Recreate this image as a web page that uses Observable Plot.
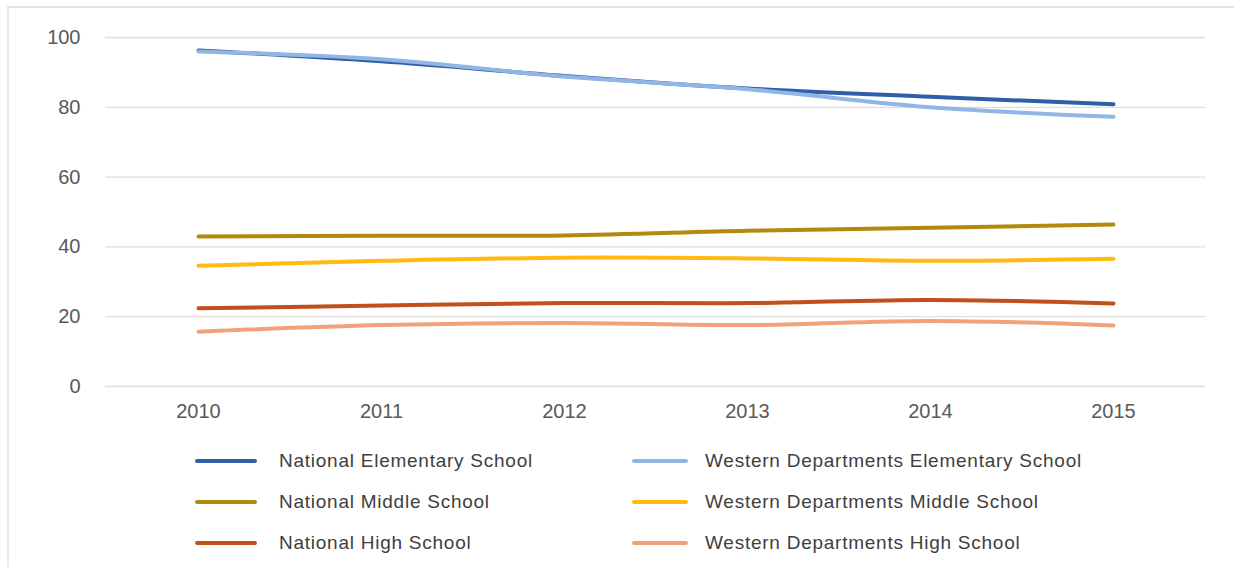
<!DOCTYPE html>
<html>
<head>
<meta charset="utf-8">
<script src="https://cdn.jsdelivr.net/npm/d3@7"></script>
<script src="https://cdn.jsdelivr.net/npm/@observablehq/plot@0.6"></script>
<style>
  html, body { margin: 0; padding: 0; background: #fff; overflow: hidden; }
  #wrap { position: relative; width: 1234px; height: 567px; overflow: hidden; font-family: "Liberation Sans", Arial, sans-serif; }
  #frame { position: absolute; left: 7px; top: 6px; width: 1300px; height: 600px; border-top: 2px solid #e2e2e2; border-left: 2px solid #e8e8e8; box-sizing: border-box; }
  #chart { position: absolute; left: 0; top: 0; }
  #legend { position: absolute; left: 0; top: 0; width: 1234px; height: 567px; pointer-events: none; }
  .item { position: absolute; display: flex; align-items: center; height: 24px; color: #404040; font-size: 19px; letter-spacing: 0.75px; white-space: nowrap; }
  .sw { display: inline-block; height: 4px; border-radius: 2px; }
</style>
</head>
<body>
<div id="wrap">
  <div id="frame"></div>
  <div id="chart"></div>
  <div id="legend"></div>
</div>
<script>
const years = ["2010", "2011", "2012", "2013", "2014", "2015"];
const yTicks = [0, 20, 40, 60, 80, 100];

const seriesNames = [
  "National Elementary School",
  "Western Departments Elementary School",
  "National Middle School",
  "Western Departments Middle School",
  "National High School",
  "Western Departments High School"
];
const seriesColors = ["#2e5fa8", "#8fb6e4", "#b38a0e", "#ffbb10", "#c2501a", "#f2a27a"];

const nationalElementary = [96.3, 93.2, 89.0, 85.4, 83.0, 80.9];
const westernElementary  = [96.0, 93.8, 88.8, 85.2, 80.0, 77.3];
const nationalMiddle     = [43.0, 43.2, 43.3, 44.6, 45.5, 46.4];
const westernMiddle      = [34.6, 36.0, 36.9, 36.7, 36.0, 36.6];
const nationalHigh       = [22.4, 23.2, 23.9, 23.9, 24.8, 23.8];
const westernHigh        = [15.7, 17.6, 18.2, 17.6, 18.8, 17.5];

const seriesValues = [nationalElementary, westernElementary, nationalMiddle, westernMiddle, nationalHigh, westernHigh];

const rows = [];
seriesNames.forEach((name, i) => {
  years.forEach((yr, j) => rows.push({series: name, year: yr, value: seriesValues[i][j]}));
});

const chart = Plot.plot({
  width: 1234,
  height: 567,
  marginTop: 37,
  marginBottom: 181,
  marginLeft: 105,
  marginRight: 29,
  style: {fontFamily: "'Liberation Sans', Arial, sans-serif", background: "transparent", overflow: "visible"},
  x: {type: "point", domain: years, padding: 0.5, label: null},
  y: {domain: [0, 100], ticks: yTicks, label: null},
  color: {domain: seriesNames, range: seriesColors},
  marks: [
    Plot.ruleY(yTicks, {stroke: "#dedede", strokeWidth: 1.3}),
    Plot.axisY({ticks: yTicks, tickSize: 0, tickPadding: 25, fontSize: 20, fill: "#595959", label: null, style: {letterSpacing: "0.8px"}}),
    Plot.axisX({tickSize: 0, tickPadding: 17, fontSize: 20, fill: "#595959", label: null, style: {letterSpacing: "0.8px"}}),
    Plot.line(rows, {x: "year", y: "value", z: "series", stroke: "series", strokeWidth: 4, curve: "catmull-rom", strokeLinecap: "round"})
  ]
});
document.getElementById("chart").appendChild(chart);

// Legend (two columns, three rows)
const legend = document.getElementById("legend");
const colLeft = [195, 62, 22];   // x, swatch width, gap
const colRight = [632, 56, 17];
const rowTops = [449, 490, 531];
seriesNames.forEach((name, i) => {
  const col = i % 2 === 0 ? colLeft : colRight;
  const row = Math.floor(i / 2);
  const item = document.createElement("div");
  item.className = "item";
  item.style.left = col[0] + "px";
  item.style.top = rowTops[row] + "px";
  const sw = document.createElement("span");
  sw.className = "sw";
  sw.style.width = col[1] + "px";
  sw.style.background = seriesColors[i];
  sw.style.marginRight = col[2] + "px";
  const label = document.createElement("span");
  label.textContent = name;
  item.appendChild(sw);
  item.appendChild(label);
  legend.appendChild(item);
});
</script>
</body>
</html>
